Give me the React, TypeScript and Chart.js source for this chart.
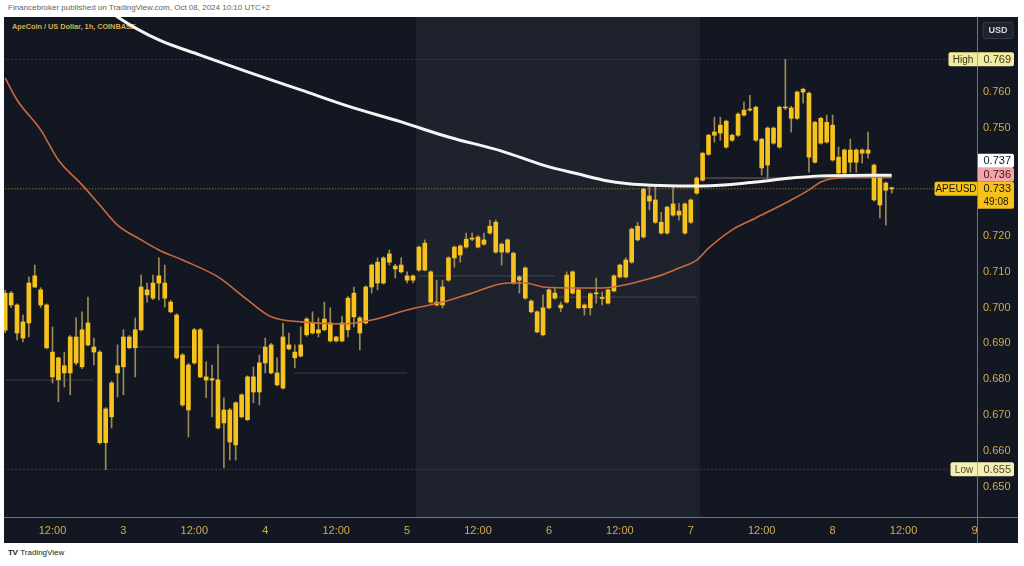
import React, { useEffect, useRef } from "react";
import { Chart, registerables } from "chart.js";

Chart.register(...registerables);

// ---------------- data ----------------
// hours counted from Oct 2, 00:00 (UTC+2); one candle per hour
const firstHour = 4;
const opens = [
  0.6937, 0.7040, 0.7007, 0.6915, 0.6957, 0.7057, 0.7049, 0.7007, 0.6876, 0.6799,
  0.6838, 0.6818, 0.6918, 0.6835, 0.6957, 0.6890, 0.6876, 0.6624, 0.6696, 0.6818,
  0.6835, 0.6918, 0.6888, 0.6938, 0.7049, 0.7026, 0.7068, 0.7068, 0.7015, 0.6979,
  0.6868, 0.6715, 0.6846, 0.6938, 0.6807, 0.6798, 0.6799, 0.6679, 0.6715, 0.6618,
  0.6696, 0.6688, 0.6807, 0.6765, 0.6846, 0.6896, 0.6818, 0.6776, 0.6896, 0.6876,
  0.6865, 0.6924, 0.6957, 0.6929, 0.6938, 0.6957, 0.6907, 0.6907, 0.6938, 0.6974,
  0.6971, 0.6957, 0.7057, 0.7068, 0.7068, 0.7126, 0.7115, 0.7099, 0.7088, 0.7076,
  0.7104, 0.7179, 0.7099, 0.7015, 0.7007, 0.7076, 0.7138, 0.7146, 0.7168, 0.7190,
  0.7196, 0.7176, 0.7207, 0.7237, 0.7154, 0.7188, 0.7151, 0.7076, 0.7110, 0.7018,
  0.6988, 0.6924, 0.6999, 0.7040, 0.7007, 0.7015, 0.7099, 0.7049, 0.7007, 0.6999,
  0.7038, 0.7028, 0.7012, 0.7046, 0.7085, 0.7085, 0.7126, 0.7188, 0.7196, 0.7310,
  0.7299, 0.7237, 0.7207, 0.7288, 0.7257, 0.7288, 0.7237, 0.7318, 0.7354, 0.7426,
  0.7479, 0.7485, 0.7518, 0.7465, 0.7479, 0.7535, 0.7549, 0.7557, 0.7468, 0.7396,
  0.7499, 0.7446, 0.7557, 0.7555, 0.7526, 0.7599, 0.7596, 0.7404, 0.7457, 0.7515,
  0.7507, 0.7374, 0.7374, 0.7438, 0.7404, 0.7438, 0.7429, 0.7396, 0.7360, 0.7346,
  0.7330,
];
const highs = [
  0.7048, 0.7045, 0.7010, 0.6979, 0.7085, 0.7118, 0.7055, 0.7010, 0.6946, 0.6862,
  0.6876, 0.6922, 0.6971, 0.6988, 0.7029, 0.6915, 0.6880, 0.6722, 0.6795, 0.6896,
  0.6938, 0.6922, 0.6971, 0.7090, 0.7068, 0.7090, 0.7138, 0.7118, 0.7020, 0.6983,
  0.6872, 0.6845, 0.6942, 0.6942, 0.6849, 0.6840, 0.6896, 0.6749, 0.6720, 0.6738,
  0.6760, 0.6810, 0.6835, 0.6868, 0.6915, 0.6900, 0.6860, 0.6957, 0.6929, 0.6896,
  0.6946, 0.6972, 0.6988, 0.6971, 0.7015, 0.6999, 0.6920, 0.6976, 0.7030, 0.7057,
  0.6975, 0.7060, 0.7121, 0.7138, 0.7141, 0.7160, 0.7120, 0.7138, 0.7099, 0.7091,
  0.7171, 0.7188, 0.7102, 0.7076, 0.7076, 0.7141, 0.7171, 0.7174, 0.7207, 0.7207,
  0.7200, 0.7207, 0.7243, 0.7243, 0.7180, 0.7191, 0.7154, 0.7088, 0.7113, 0.7021,
  0.6991, 0.7035, 0.7052, 0.7057, 0.7015, 0.7099, 0.7102, 0.7052, 0.7010, 0.7041,
  0.7082, 0.7043, 0.7052, 0.7091, 0.7121, 0.7138, 0.7221, 0.7237, 0.7332, 0.7337,
  0.7337, 0.7265, 0.7282, 0.7337, 0.7290, 0.7291, 0.7302, 0.7363, 0.7432, 0.7482,
  0.7529, 0.7529, 0.7521, 0.7482, 0.7541, 0.7571, 0.7590, 0.7560, 0.7471, 0.7502,
  0.7502, 0.7560, 0.7690, 0.7560, 0.7602, 0.7610, 0.7599, 0.7518, 0.7529, 0.7535,
  0.7535, 0.7446, 0.7441, 0.7468, 0.7441, 0.7441, 0.7488, 0.7399, 0.7363, 0.7349,
  0.7335,
];
const lows = [
  0.6930, 0.7000, 0.6910, 0.6904, 0.6918, 0.7055, 0.7000, 0.6885, 0.6790, 0.6738,
  0.6779, 0.6757, 0.6840, 0.6830, 0.6893, 0.6840, 0.6620, 0.6549, 0.6665, 0.6751,
  0.6757, 0.6885, 0.6807, 0.6935, 0.7015, 0.7022, 0.7021, 0.7001, 0.6985, 0.6857,
  0.6725, 0.6640, 0.6842, 0.6805, 0.6749, 0.6696, 0.6662, 0.6554, 0.6576, 0.6576,
  0.6693, 0.6685, 0.6735, 0.6729, 0.6818, 0.6815, 0.6782, 0.6773, 0.6882, 0.6832,
  0.6862, 0.6920, 0.6926, 0.6918, 0.6935, 0.6904, 0.6904, 0.6904, 0.6918, 0.6946,
  0.6882, 0.6954, 0.7040, 0.7049, 0.7065, 0.7118, 0.7082, 0.7096, 0.7068, 0.7068,
  0.7101, 0.7102, 0.7012, 0.7004, 0.6999, 0.7073, 0.7112, 0.7126, 0.7165, 0.7186,
  0.7166, 0.7173, 0.7204, 0.7151, 0.7118, 0.7151, 0.7065, 0.7040, 0.7023, 0.6985,
  0.6929, 0.6921, 0.6996, 0.7023, 0.6988, 0.7012, 0.7037, 0.6996, 0.6979, 0.6979,
  0.7012, 0.7007, 0.7009, 0.7043, 0.7082, 0.7082, 0.7123, 0.7185, 0.7193, 0.7271,
  0.7234, 0.7204, 0.7204, 0.7254, 0.7243, 0.7204, 0.7234, 0.7315, 0.7351, 0.7423,
  0.7460, 0.7465, 0.7443, 0.7462, 0.7476, 0.7532, 0.7546, 0.7462, 0.7368, 0.7360,
  0.7454, 0.7443, 0.7550, 0.7488, 0.7523, 0.7568, 0.7376, 0.7401, 0.7454, 0.7457,
  0.7407, 0.7371, 0.7371, 0.7376, 0.7376, 0.7401, 0.7415, 0.7296, 0.7249, 0.7229,
  0.7318,
];
const closes = [
  0.7040, 0.7007, 0.6929, 0.6960, 0.7068, 0.7088, 0.7007, 0.6888, 0.6807, 0.6860,
  0.6818, 0.6918, 0.6846, 0.6938, 0.6896, 0.6876, 0.6624, 0.6718, 0.6790, 0.6838,
  0.6918, 0.6888, 0.6938, 0.7057, 0.7035, 0.7068, 0.7088, 0.7026, 0.6988, 0.6860,
  0.6729, 0.6840, 0.6938, 0.6807, 0.6798, 0.6802, 0.6665, 0.6715, 0.6626, 0.6735,
  0.6757, 0.6807, 0.6765, 0.6846, 0.6890, 0.6818, 0.6785, 0.6918, 0.6885, 0.6860,
  0.6896, 0.6968, 0.6929, 0.6938, 0.6968, 0.6907, 0.6918, 0.6957, 0.7026, 0.7040,
  0.6929, 0.7057, 0.7118, 0.7126, 0.7138, 0.7149, 0.7107, 0.7118, 0.7076, 0.7088,
  0.7168, 0.7104, 0.7015, 0.7007, 0.7057, 0.7138, 0.7168, 0.7171, 0.7190, 0.7193,
  0.7168, 0.7188, 0.7226, 0.7154, 0.7176, 0.7154, 0.7068, 0.7085, 0.7026, 0.6988,
  0.6932, 0.6999, 0.7049, 0.7026, 0.6999, 0.7090, 0.7040, 0.6999, 0.6999, 0.7038,
  0.7040, 0.7025, 0.7049, 0.7088, 0.7118, 0.7132, 0.7218, 0.7226, 0.7329, 0.7296,
  0.7237, 0.7207, 0.7279, 0.7257, 0.7268, 0.7207, 0.7299, 0.7360, 0.7429, 0.7479,
  0.7488, 0.7507, 0.7446, 0.7479, 0.7538, 0.7549, 0.7551, 0.7465, 0.7388, 0.7499,
  0.7457, 0.7557, 0.7555, 0.7526, 0.7599, 0.7607, 0.7418, 0.7515, 0.7526, 0.7460,
  0.7410, 0.7418, 0.7438, 0.7404, 0.7438, 0.7429, 0.7438, 0.7299, 0.7285, 0.7326,
  0.7330,
];

// moving averages
const ma50Hours = [4, 6, 10, 13, 17, 20, 23, 27, 30, 34, 40, 45, 49, 54, 61, 66, 72, 78, 83, 89, 92, 95, 101, 105, 109, 112, 115, 118, 121, 123, 127, 131, 137, 140, 142, 145, 154];
const ma50Values = [0.7638, 0.7577, 0.7494, 0.7410, 0.7341, 0.7285, 0.7229, 0.7188, 0.7160, 0.7132, 0.7085, 0.7021, 0.6974, 0.6960, 0.6954, 0.6965, 0.6993, 0.7015, 0.7040, 0.7068, 0.7068, 0.7057, 0.7054, 0.7054, 0.7063, 0.7076, 0.7090, 0.7110, 0.7132, 0.7165, 0.7216, 0.7249, 0.7299, 0.7327, 0.7349, 0.7360, 0.7363];
const ma200Hours = [20, 23, 30, 37, 45, 54, 62, 71, 79, 88, 95, 101, 106, 112, 118, 122, 131, 137, 142, 154];
const ma200Values = [0.7847, 0.7808, 0.7744, 0.7702, 0.7655, 0.7605, 0.7560, 0.7516, 0.7474, 0.7435, 0.7396, 0.7371, 0.7352, 0.7341, 0.7338, 0.7338, 0.7349, 0.7360, 0.7366, 0.7368];

// faint session level lines
const levelFrom = [4, 26, 53, 74, 97];
const levelTo = [19, 48, 72, 97, 121];
const levelValue = [0.6798, 0.6890, 0.6818, 0.7088, 0.7029];
const rayFrom = 122;
const rayTo = 154;
const rayValue = 0.7360;

const priceTicks = [0.65, 0.66, 0.67, 0.68, 0.69, 0.7, 0.71, 0.72, 0.75, 0.76];
const timeTickHours = [12, 24, 36, 48, 60, 72, 84, 96, 108, 120, 132, 144, 156, 168];
const timeTickLabels = ["12:00", "3", "12:00", "4", "12:00", "5", "12:00", "6", "12:00", "7", "12:00", "8", "12:00", "9"];
const weekendBand = [73.5, 121.5];

const lastPrice = 0.733;
const highPrice = 0.769;
const lowPrice = 0.655;
const ma200Last = 0.737;
const ma50Last = 0.736;
const countdown = "49:08";
const symbol = "APEUSD";

// ---------------- styles ----------------
const BG = "#131722";
const BAND = "#1e222d";
const AXIS_LINE = "#8a7636";
const AXIS_TEXT = "#d3aa50";
const CANDLE = "#f6c21e";
const WICK = "#9c8a55";
const FONT = "'Liberation Sans', Arial, sans-serif";

const overlayPlugin = {
  id: "tvOverlay",
  beforeDatasetsDraw(chart: any) {
    const { ctx, chartArea, scales } = chart;
    const x0 = scales.x.getPixelForValue(weekendBand[0]);
    const x1 = scales.x.getPixelForValue(weekendBand[1]);
    ctx.save();
    ctx.fillStyle = BAND;
    ctx.fillRect(x0, chartArea.top, x1 - x0, chartArea.bottom - chartArea.top);
    ctx.restore();
  },
  afterDraw(chart: any) {
    const { ctx, chartArea, scales } = chart;
    const y = scales.y;
    const W = chart.width;
    const H = chart.height;
    const ax = Math.round(chartArea.right) + 0.5;
    ctx.save();
    // axis lines
    ctx.strokeStyle = AXIS_LINE;
    ctx.lineWidth = 1;
    ctx.beginPath();
    ctx.moveTo(ax, 0);
    ctx.lineTo(ax, H);
    ctx.moveTo(0, Math.round(chartArea.bottom) + 0.5);
    ctx.lineTo(W, Math.round(chartArea.bottom) + 0.5);
    ctx.stroke();

    // USD box
    ctx.fillStyle = "#1f2330";
    ctx.strokeStyle = "#363a45";
    ctx.beginPath();
    ctx.roundRect(ax + 5.5, 5.5, 30, 16, 2);
    ctx.fill();
    ctx.stroke();
    ctx.fillStyle = "#d1d4dc";
    ctx.font = `bold 9px ${FONT}`;
    ctx.textAlign = "center";
    ctx.textBaseline = "middle";
    ctx.fillText("USD", ax + 20.5, 14);

    const boxW = 36;
    const lineH = 13;
    const drawTag = (label: string, yTop: number, w: number, bg: string, fg: string) => {
      ctx.fillStyle = bg;
      ctx.beginPath();
      ctx.roundRect(ax - w, yTop, w, 14, [2, 0, 0, 2]);
      ctx.fill();
      ctx.fillStyle = fg;
      ctx.font = `10px ${FONT}`;
      ctx.textAlign = "center";
      ctx.textBaseline = "middle";
      ctx.fillText(label, ax - w / 2, yTop + 7.5);
    };
    const drawValue = (lines: string[], yTop: number, bg: string, fg: string) => {
      const h = lines.length === 1 ? 14 : 14 + (lines.length - 1) * lineH;
      ctx.fillStyle = bg;
      ctx.beginPath();
      ctx.roundRect(ax + 0.5, yTop, boxW, h, [0, 2, 2, 0]);
      ctx.fill();
      ctx.fillStyle = fg;
      ctx.textAlign = "left";
      ctx.textBaseline = "middle";
      lines.forEach((t, i) => {
        ctx.font = `${i === 0 ? 11 : 10}px ${FONT}`;
        ctx.fillText(t, ax + 6, yTop + 7.5 + i * lineH);
      });
      return h;
    };

    // High / Low
    const yh = y.getPixelForValue(highPrice);
    drawTag("High", yh - 7, 29, "#f2ec9e", "#3a3520");
    drawValue([highPrice.toFixed(3)], yh - 7, "#f2ec9e", "#3a3520");
    const yl = y.getPixelForValue(lowPrice);
    drawTag("Low", yl - 7, 27, "#f4f0b4", "#4a4530");
    drawValue([lowPrice.toFixed(3)], yl - 7, "#f4f0b4", "#4a4530");

    // stacked price labels
    const stack = [
      { v: lastPrice, lines: [lastPrice.toFixed(3), countdown], bg: "#f5c21b", fg: "#1a1606", tag: symbol },
      { v: ma50Last, lines: [ma50Last.toFixed(3)], bg: "#f4a5aa", fg: "#3a1518", tag: "" },
      { v: ma200Last, lines: [ma200Last.toFixed(3)], bg: "#ffffff", fg: "#131722", tag: "" },
    ].sort((a, b) => a.v - b.v);
    let limit = Infinity;
    stack.forEach((s) => {
      const h = s.lines.length === 1 ? 14 : 14 + (s.lines.length - 1) * lineH;
      let top = y.getPixelForValue(s.v) - 7;
      if (top + h > limit) top = limit - h;
      drawValue(s.lines, top, s.bg, s.fg);
      if (s.tag) drawTag(s.tag, top, 43, s.bg, s.fg);
      limit = top;
    });
    ctx.restore();
  },
};

export default function App() {
  const canvasRef = useRef<HTMLCanvasElement | null>(null);

  useEffect(() => {
    if (!canvasRef.current) return;
    const hours = opens.map((_, i) => firstHour + i);
    const hLine = (from: number, to: number, v: number) => [
      { x: from, y: v },
      { x: to, y: v },
    ];
    const levelSets = levelValue.map((v, i) => ({
      type: "line" as const,
      data: hLine(levelFrom[i], levelTo[i], v),
      borderColor: "rgba(150,152,165,0.32)",
      borderWidth: 1,
      pointRadius: 0,
      order: 5,
    }));

    const chart = new Chart(canvasRef.current, {
      type: "bar",
      data: {
        datasets: [
          ...levelSets,
          {
            type: "line",
            data: hLine(rayFrom, rayTo, rayValue),
            borderColor: "rgba(215,170,170,0.55)",
            borderWidth: 1,
            pointRadius: 0,
            order: 5,
          },
          {
            type: "line",
            data: hLine(3, 170, highPrice),
            borderColor: "rgba(140,140,150,0.35)",
            borderWidth: 1,
            borderDash: [2, 2],
            pointRadius: 0,
            order: 5,
          },
          {
            type: "line",
            data: hLine(3, 170, lowPrice),
            borderColor: "rgba(140,140,150,0.35)",
            borderWidth: 1,
            borderDash: [2, 2],
            pointRadius: 0,
            order: 5,
          },
          {
            type: "line",
            data: hLine(3, 170, lastPrice),
            borderColor: "rgba(240,185,60,0.75)",
            borderWidth: 1,
            borderDash: [1, 2],
            pointRadius: 0,
            order: 5,
          },
          {
            type: "bar",
            data: hours.map((h, i) => ({ x: h, y: [lows[i], highs[i]] })) as any,
            backgroundColor: WICK,
            barThickness: 1,
            grouped: false,
            borderSkipped: false,
            order: 3,
          },
          {
            type: "bar",
            data: hours.map((h, i) => ({ x: h, y: [opens[i], closes[i]] })) as any,
            backgroundColor: CANDLE,
            barThickness: 4,
            minBarLength: 1,
            grouped: false,
            borderSkipped: false,
            order: 2,
          },
          {
            type: "line",
            data: ma50Hours.map((h, i) => ({ x: h, y: ma50Values[i] })),
            borderColor: "#cc6a3e",
            borderWidth: 1.6,
            pointRadius: 0,
            cubicInterpolationMode: "monotone",
            order: 1,
          },
          {
            type: "line",
            data: ma200Hours.map((h, i) => ({ x: h, y: ma200Values[i] })),
            borderColor: "#f4f4f4",
            borderWidth: 3,
            pointRadius: 0,
            cubicInterpolationMode: "monotone",
            order: 0,
          },
        ] as any,
      },
      options: {
        animation: false,
        responsive: false,
        events: [],
        layout: { padding: 0 },
        plugins: { legend: { display: false }, tooltip: { enabled: false } },
        scales: {
          x: {
            type: "linear",
            min: 3.794,
            max: 168.43,
            offset: false,
            grid: { display: false, drawTicks: false },
            border: { display: false },
            afterFit: (s: any) => {
              s.height = 26;
              s.paddingLeft = 0;
              s.paddingRight = 0;
            },
            afterBuildTicks: (s: any) => {
              s.ticks = timeTickHours.map((v) => ({ value: v }));
            },
            ticks: {
              autoSkip: false,
              maxRotation: 0,
              minRotation: 0,
              padding: 7,
              color: AXIS_TEXT,
              font: { size: 11, family: FONT },
              callback: (_v: any, i: number) => timeTickLabels[i],
            },
          },
          y: {
            type: "linear",
            position: "right",
            min: 0.64174,
            max: 0.78078,
            grid: { display: false, drawTicks: false },
            border: { display: false },
            afterFit: (s: any) => {
              s.width = 41;
              s.paddingTop = 0;
              s.paddingBottom = 0;
            },
            afterBuildTicks: (s: any) => {
              s.ticks = priceTicks.map((v) => ({ value: v }));
            },
            ticks: {
              padding: 6,
              color: AXIS_TEXT,
              font: { size: 11, family: FONT },
              callback: (v: any) => Number(v).toFixed(3),
            },
          },
        },
      } as any,
      plugins: [overlayPlugin],
    });
    return () => chart.destroy();
  }, []);

  return (
    <div style={{ position: "absolute", left: 0, top: 0, width: 1024, height: 566, background: "#ffffff", overflow: "hidden", fontFamily: FONT }}>
      <div style={{ position: "absolute", left: 8, top: 3, fontSize: 8, color: "#5f6368", whiteSpace: "nowrap" }}>
        Financebroker published on TradingView.com, Oct 08, 2024 10:10 UTC+2
      </div>
      <div style={{ position: "absolute", left: 4, top: 17, width: 1014, height: 526, background: BG }}>
        <div style={{ position: "absolute", left: 8, top: 5, fontSize: 7.3, fontWeight: "bold", color: "#d8ae4c", whiteSpace: "nowrap" }}>
          ApeCoin / US Dollar, 1h, COINBASE
        </div>
        <canvas ref={canvasRef} width={1014} height={526} style={{ position: "absolute", left: 0, top: 0, width: 1014, height: 526 }} />
      </div>
      <div style={{ position: "absolute", left: 8, top: 548, fontSize: 8, color: "#222", whiteSpace: "nowrap", display: "flex", alignItems: "center", gap: 3 }}>
        <span style={{ fontWeight: 900, fontSize: 8, letterSpacing: -0.5 }}>TV</span>
        <span>TradingView</span>
      </div>
    </div>
  );
}
